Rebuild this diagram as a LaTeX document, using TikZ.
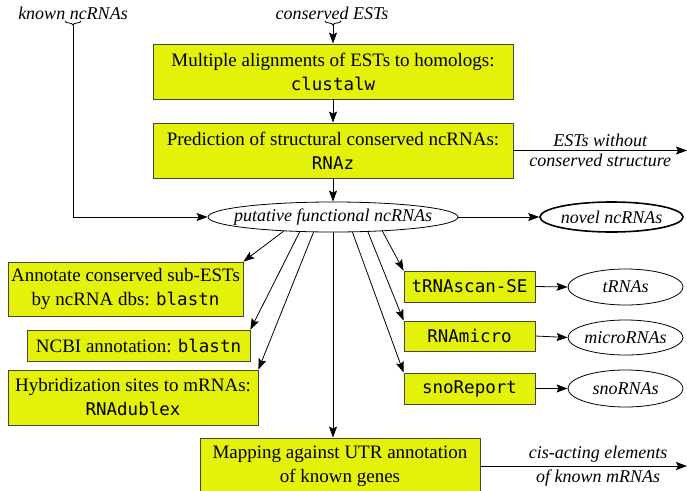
\documentclass[tikz,border=0pt]{standalone}
\usepackage{fontspec}
\setmainfont{Liberation Serif}
\setmonofont{DejaVu Sans Mono}
\usepackage{xcolor}
\usetikzlibrary{arrows.meta, decorations.pathreplacing, shapes.geometric}

\definecolor{boxyellow}{RGB}{228,242,10}
\definecolor{boxedge}{RGB}{70,70,50}
\newcommand{\toolname}[1]{{\fontsize{17.5}{24}\selectfont\ttfamily #1}}

\tikzset{
  procbox/.style={draw=boxedge, fill=boxyellow, line width=0.8pt, align=center, inner sep=2pt},
  resell/.style={draw, ellipse, line width=0.8pt, inner ysep=0pt, inner xsep=-15pt, font=\fontsize{18}{23}\selectfont\itshape},
  flowlabel/.style={font=\fontsize{18}{23}\selectfont\itshape},
  flow/.style={-{Stealth[length=11pt,width=8pt,inset=2pt]}, line width=0.8pt},
  smallbrace/.style={decorate, decoration={brace, amplitude=4pt, mirror}, line width=0.8pt},
}

\begin{document}
\begin{tikzpicture}[x=1pt, y=-1pt, every node/.style={font=\fontsize{19}{24}\selectfont}]
\useasboundingbox (0,0) rectangle (687,490);

% Eingaben
\node[flowlabel] (known) at (73,13) {known ncRNAs};
\node[flowlabel] (cons) at (332,13) {conserved ESTs};
\draw[smallbrace] (65,21) -- (81,21);
\draw[smallbrace] (325,21) -- (341,21);
\coordinate (knowntip) at (73,25);
\coordinate (constip) at (333,25);

% Hauptkette
\node[procbox, minimum width=360, minimum height=55] (align) at (333,71.5)
  {Multiple alignments of ESTs to homologs:\\ \toolname{clustalw}};
\node[procbox, minimum width=360, minimum height=55] (predict) at (333,150.5)
  {Prediction of structural conserved ncRNAs:\\ \toolname{RNAz}};
\node[resell, minimum width=250, minimum height=30] (put) at (333,217) {putative functional ncRNAs};
\node[resell, line width=1.6pt, minimum width=143, minimum height=30] (novel) at (611.5,217) {novel ncRNAs};

% Annotation links
\node[procbox, minimum width=235, minimum height=54] (annot) at (125.5,289)
  {Annotate conserved sub-ESTs\\ by ncRNA dbs: \toolname{blastn}};
\node[procbox, minimum width=223, minimum height=31] (ncbi) at (138.5,345.5)
  {NCBI annotation: \toolname{blastn}};
\node[procbox, minimum width=250, minimum height=55] (hybrid) at (133,397.5)
  {Hybridization sites to mRNAs:\\ \toolname{RNAdublex}};

% Klassifikation rechts
\node[procbox, minimum width=131, minimum height=31] (trnabox) at (469.5,286.5) {\toolname{tRNAscan-SE}};
\node[procbox, minimum width=131, minimum height=30] (microbox) at (469.5,336) {\toolname{RNAmicro}};
\node[procbox, minimum width=131, minimum height=31] (snobox) at (469.5,388.5) {\toolname{snoReport}};
\node[resell, minimum width=115, minimum height=36] (trna) at (625.5,287) {tRNAs};
\node[resell, minimum width=115, minimum height=35] (micro) at (625.5,337.5) {microRNAs};
\node[resell, minimum width=115, minimum height=37] (sno) at (625.5,388.5) {snoRNAs};

% UTR
\node[procbox, minimum width=280, minimum height=56] (utr) at (340,466)
  {Mapping against UTR annotation\\ of known genes};

% Ausgaenge
\coordinate (nostruct) at (687,150.5);
\coordinate (cisact) at (687,466);

% Pfeile
\draw[flow] (knowntip) |- (put.west);
\draw[flow] (constip) -- (align.north);
\draw[flow] (align.south) -- (predict.north);
\draw[flow] (predict.south) -- (put.north);
\draw[flow] (predict.east) -- (nostruct)
  node[midway, above, flowlabel] {ESTs without}
  node[midway, below, flowlabel] {conserved structure};
\draw[flow] (put.east) -- (novel.west);
\draw[flow] (put.196) -- (annot.north east);
\draw[flow] (put.204) -- (ncbi.north east);
\draw[flow] (put.218) -- (hybrid.north east);
\draw[flow] (put.south) -- (utr.north -| put.south);
\draw[flow] (put.322) -- (snobox.north west);
\draw[flow] (put.337) -- (microbox.north west);
\draw[flow] (put.344) -- (trnabox.north west);
\draw[flow] (trnabox.east) -- (trna.west);
\draw[flow] (microbox.east) -- (micro.west);
\draw[flow] (snobox.east) -- (sno.west);
\draw[flow] (utr.east) -- (cisact)
  node[pos=0.57, above, flowlabel] {cis-acting elements}
  node[pos=0.57, below, flowlabel] {of known mRNAs};

\end{tikzpicture}
\end{document}
